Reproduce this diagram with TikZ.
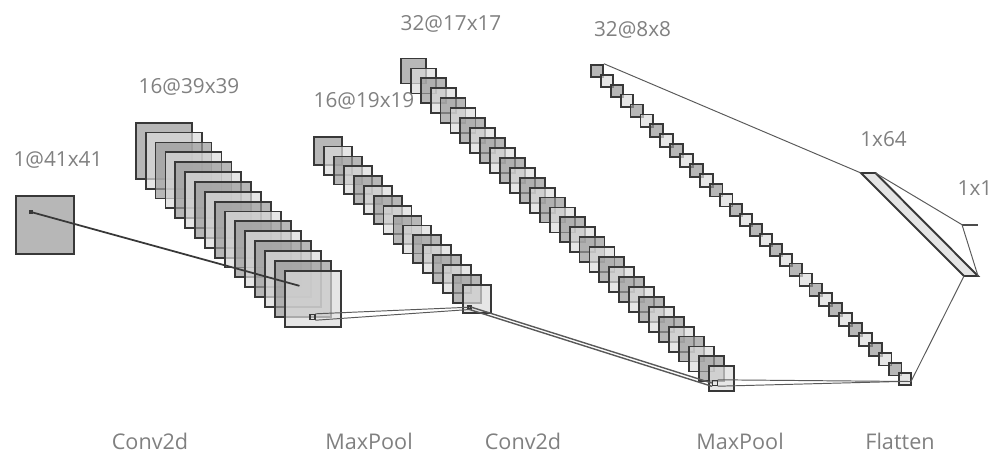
\documentclass[tikz,border=0pt]{standalone}
\usepackage{fontspec}
\setmainfont{Open Sans}

\begin{document}
\begin{tikzpicture}[x=0.02cm,y=-0.02cm]
\tikzset{
  mapbox/.style={rectangle,draw=black!78,line width=1.05pt,inner sep=0pt,minimum size=#1*0.02cm,fill opacity=0.7},
  darkmap/.style={mapbox=#1,fill=black!40},
  lightmap/.style={mapbox=#1,fill=black!14},
  kernelbox/.style={rectangle,draw=black!78,line width=0.8pt,inner sep=0pt,minimum size=#1*0.02cm},
  linkedge/.style={draw=black!65,line width=0.55pt,line cap=round,line join=round},
  sizelabel/.style={text=black!50,font=\fontsize{11.8}{14}\selectfont,inner sep=0pt},
  oplabel/.style={text=black!50,font=\fontsize{12.3}{14}\selectfont,inner sep=0pt}
}
\useasboundingbox (0,0) rectangle (997,454);
% input
\node[darkmap=58] (n_in) at (44.7,224.7) {};
% feature maps
\foreach \i in {0,...,15} {
  \pgfmathtruncatemacro{\odd}{mod(\i,2)}
  \ifnum\odd=0 \def\mapstyle{darkmap}\else\def\mapstyle{lightmap}\fi
  \node[\mapstyle=56] (n_a\i) at ({163.7+9.93*\i},{150.7+9.87*\i}) {};
}
\foreach \i in {0,...,15} {
  \pgfmathtruncatemacro{\odd}{mod(\i,2)}
  \ifnum\odd=0 \def\mapstyle{darkmap}\else\def\mapstyle{lightmap}\fi
  \node[\mapstyle=28] (n_b\i) at ({328+9.93*\i},{150.7+9.87*\i}) {};
}
\foreach \i in {0,...,31} {
  \pgfmathtruncatemacro{\odd}{mod(\i,2)}
  \ifnum\odd=0 \def\mapstyle{darkmap}\else\def\mapstyle{lightmap}\fi
  \node[\mapstyle=25] (n_c\i) at ({413.3+9.93*\i},{71+9.93*\i}) {};
}
\foreach \i in {0,...,31} {
  \pgfmathtruncatemacro{\odd}{mod(\i,2)}
  \ifnum\odd=0 \def\mapstyle{darkmap}\else\def\mapstyle{lightmap}\fi
  \node[\mapstyle=12.5] (n_d\i) at ({597+9.94*\i},{71+9.94*\i}) {};
}
% flatten and output
\coordinate (f_a) at (861,173);
\coordinate (f_b) at (875.5,173);
\coordinate (f_c) at (978,276);
\coordinate (f_d) at (964,276);
\draw[black!78,line width=1.1pt,fill=black!10,line join=miter] (f_a) -- (f_b) -- (f_c) -- (f_d) -- cycle;
\coordinate (o_a) at (962,224.7);
\coordinate (o_b) at (978,224.7);
\draw[black!70,line width=1.1pt] (o_a) -- (o_b);
% kernels
\node[kernelbox=2.5,fill=black!78] (k_in) at (31,212) {};
\coordinate (t_a) at (299,285.7);
\node[kernelbox=5] (k_a) at (312.5,317) {};
\node[kernelbox=3,fill=black!50] (k_b) at (469.5,307.3) {};
\node[kernelbox=5] (k_c) at (714.8,383) {};
\coordinate (t_c) at (899,381.5);
\coordinate (t_d) at (911,381.5);
% links
\draw[linkedge,line width=1pt,draw=black!78] (k_in) -- (t_a);
\draw[linkedge] (k_a.north east) -- (k_b.west);
\draw[linkedge] (k_a.south east) -- (k_b.south);
\draw[linkedge,line width=0.8pt] (k_b.east) -- (k_c.west);
\draw[linkedge,line width=0.8pt] (k_b.south) -- (k_c.south west);
\draw[linkedge] (k_c.north east) -- (t_d);
\draw[linkedge] (k_c.south east) -- (t_c);
\draw[linkedge] (n_d0.north east) -- (f_a);
\draw[linkedge] (t_d) -- (f_d);
\draw[linkedge] (f_b) -- (o_a);
\draw[linkedge] (f_c) -- (o_a);
% labels
\node[sizelabel] (l_in) at (58,160) {1@41x41};
\node[sizelabel] (l_a) at (189,87) {16@39x39};
\node[sizelabel] (l_b) at (364,101) {16@19x19};
\node[sizelabel] (l_c) at (451,24) {32@17x17};
\node[sizelabel] (l_d) at (632.5,30) {32@8x8};
\node[sizelabel] (l_f) at (883.5,139) {1x64};
\node[sizelabel] (l_o) at (975,188) {1x1};
\node[oplabel] (p_a) at (150,441) {Conv2d};
\node[oplabel] (p_b) at (369,441) {MaxPool};
\node[oplabel] (p_c) at (523,441) {Conv2d};
\node[oplabel] (p_d) at (740,441) {MaxPool};
\node[oplabel] (p_e) at (900,441) {Flatten};
\end{tikzpicture}
\end{document}
